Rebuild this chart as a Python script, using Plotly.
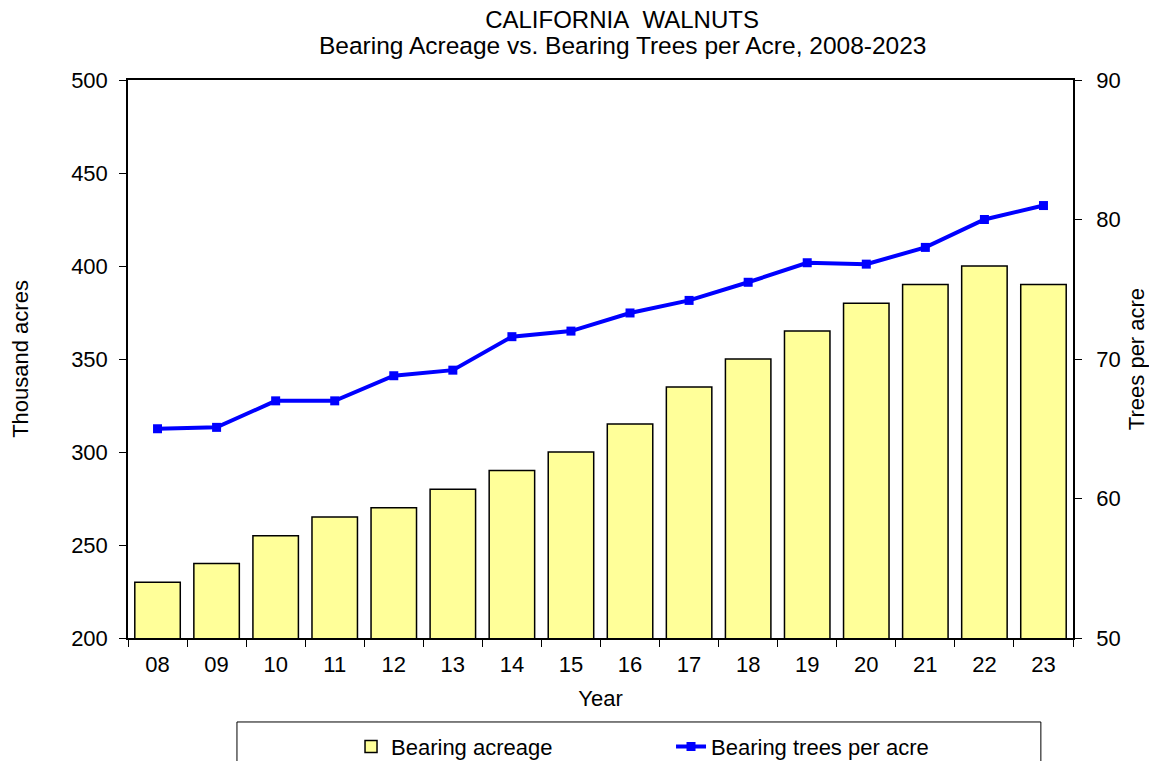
import plotly.graph_objects as go

years = ["08", "09", "10", "11", "12", "13", "14", "15", "16", "17", "18", "19", "20", "21", "22", "23"]
acreage = [230, 240, 255, 265, 270, 280, 290, 300, 315, 335, 350, 365, 380, 390, 400, 390]
trees_per_acre = [65.0, 65.1, 67.0, 67.0, 68.8, 69.2, 71.6, 72.0, 73.3, 74.2, 75.5, 76.9, 76.8, 78.0, 80.0, 81.0]

FONT = "Liberation Sans, Arial, sans-serif"
FS = 22
TFS = 24

fig = go.Figure()
fig.add_trace(go.Bar(
    x=years, y=acreage, name="Bearing acreage",
    marker=dict(color="#FFFF99", line=dict(color="black", width=1.5)),
    width=0.77, yaxis="y",
))
fig.add_trace(go.Scatter(
    x=years, y=trees_per_acre, name="Bearing trees per acre",
    mode="lines+markers",
    line=dict(color="#0000FF", width=4),
    marker=dict(symbol="square", size=9, color="#0000FF"),
    yaxis="y2",
))

axis_common = dict(showgrid=False, zeroline=False, linecolor="black", linewidth=1.5,
                   ticks="outside", ticklen=7, tickcolor="black", automargin=False,
                   tickfont=dict(size=FS, color="black", family=FONT))

fig.update_layout(
    width=1141, height=753,
    margin=dict(l=120, r=76, t=72, b=123, autoexpand=False),
    paper_bgcolor="white", plot_bgcolor="white",
    font=dict(family=FONT, color="black"),
    title=dict(text="CALIFORNIA&nbsp;&nbsp;WALNUTS",
               xref="paper", x=0.5228, xanchor="center",
               yref="container", y=0.984, yanchor="middle",
               font=dict(size=TFS, family=FONT, color="black")),
    annotations=[dict(text="Bearing Acreage vs. Bearing Trees per Acre, 2008-2023",
                      xref="paper", yref="paper", x=0.5228, xanchor="center",
                      y=1.0627, yanchor="middle", showarrow=False,
                      font=dict(size=24.5, family=FONT, color="black"))],
    xaxis=dict(**axis_common, tickson="boundaries", mirror=True, range=[-0.5, 15.5],
               ticklabelstandoff=6,
               title=dict(text="Year", font=dict(size=FS, family=FONT), standoff=14)),
    yaxis=dict(**axis_common, range=[200, 500], dtick=50, ticklabelstandoff=7,
               title=dict(text="Thousand acres", font=dict(size=FS, family=FONT), standoff=46)),
    yaxis2=dict(**axis_common, range=[50, 90], dtick=10, overlaying="y", side="right",
                ticklabelstandoff=10,
                title=dict(text="Trees per acre", font=dict(size=FS, family=FONT), standoff=26)),
    showlegend=True,
    legend=dict(orientation="h", x=0.236, xanchor="left", y=-0.195, yanchor="middle",
                font=dict(size=FS, family=FONT, color="black"),
                entrywidth=275, entrywidthmode="pixels",
                bgcolor="rgba(0,0,0,0)", borderwidth=0),
    shapes=[dict(type="rect", xref="paper", yref="paper",
                 x0=0.1153, x1=0.966, y0=-0.40, y1=-0.1505,
                 line=dict(color="black", width=1), fillcolor="rgba(0,0,0,0)")],
)

fig.write_html("out.html")
